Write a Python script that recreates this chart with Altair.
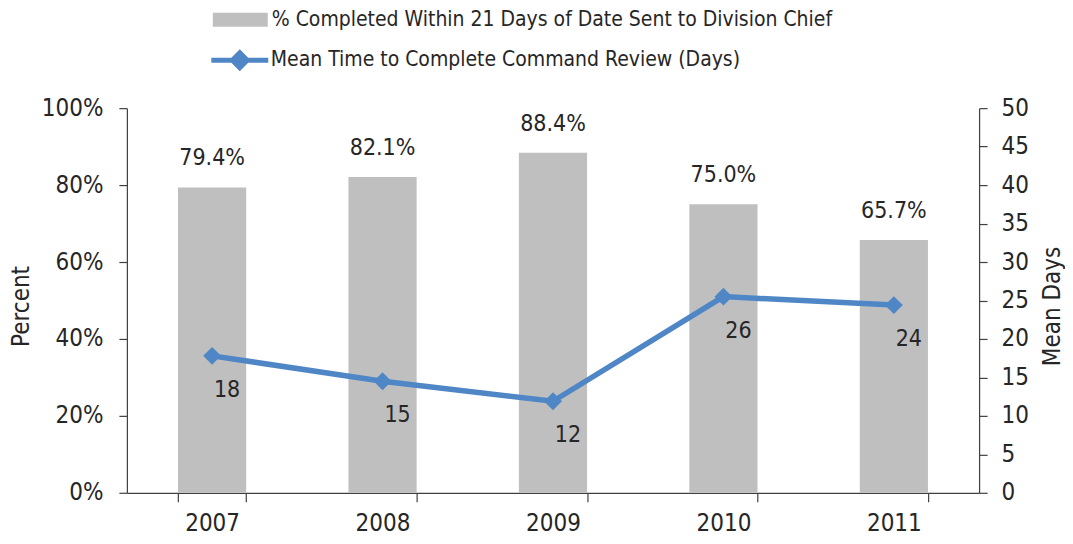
import altair as alt
import pandas as pd

years = ["2007", "2008", "2009", "2010", "2011"]
pct_completed = [79.4, 82.1, 88.4, 75.0, 65.7]
pct_labels = ["79.4%", "82.1%", "88.4%", "75.0%", "65.7%"]
mean_days = [17.8, 14.5, 11.9, 25.5, 24.4]
day_labels = ["18", "15", "12", "26", "24"]
BAR_NAME = "% Completed Within 21 Days of Date Sent to Division Chief"
LINE_NAME = "Mean Time to Complete Command Review (Days)"

GRAY = "#BFBFBF"
BLUE = "#4F86C6"
TXT = "#262626"
FONT = "DejaVu Sans Condensed, Liberation Sans Narrow, sans-serif"
FS = 24

df = pd.DataFrame({
    "year": years,
    "pct": pct_completed,
    "pct_label": pct_labels,
    "days": mean_days,
    "day_label": day_labels,
    "s1": BAR_NAME,
    "s2": LINE_NAME,
})

base = alt.Chart(df)

x = alt.X("year:N", title=None,
          scale=alt.Scale(paddingInner=0.6, paddingOuter=0.3),
          axis=alt.Axis(labelAngle=0, tickBand="extent", tickSize=9, labelPadding=10,
                        domainColor="#404040", tickColor="#404040", grid=False))

y_pct = alt.Y("pct:Q", title="Percent",
              scale=alt.Scale(domain=[0, 100]),
              axis=alt.Axis(values=[0, 20, 40, 60, 80, 100], labelExpr="datum.value + '%'",
                            grid=False, tickSize=8, labelPadding=16,
                            titleAngle=270, titleX=-105, titleY=198, titleAlign="center",
                            titleBaseline="middle",
                            domainColor="#404040", tickColor="#404040"))

y_days = alt.Y("days:Q", title="Mean Days",
               scale=alt.Scale(domain=[0, 50]),
               axis=alt.Axis(orient="right", values=list(range(0, 55, 5)), grid=False,
                             tickSize=8, labelPadding=14,
                             titleAngle=270, titleX=73, titleY=198, titleAlign="center",
                             titleBaseline="middle",
                             domainColor="#404040", tickColor="#404040"))

rect_path = "M-1,-0.2545H1V0.2545H-1Z"
line_path = "M-1,0H1M0,-0.26L0.26,0L0,0.26L-0.26,0Z"

bars = base.mark_bar(color=GRAY).encode(
    x=x, y=y_pct,
    fill=alt.Fill("s1:N", scale=alt.Scale(range=[GRAY]),
                  legend=alt.Legend(orient="none", legendX=86, legendY=-116, title=None,
                                    symbolType=rect_path, symbolSize=3025, symbolStrokeWidth=0,
                                    labelFont=FONT, labelFontSize=21, labelColor=TXT,
                                    labelOffset=4, padding=0, labelLimit=800)),
)
bar_text = base.mark_text(baseline="middle", dy=-29, font=FONT, fontSize=23, color=TXT).encode(
    x=x, y=y_pct, text="pct_label:N")

line = base.mark_line(strokeWidth=5.5).encode(
    x=x, y=y_days,
    stroke=alt.Stroke("s2:N", scale=alt.Scale(range=[BLUE]),
                      legend=alt.Legend(orient="none", legendX=82, legendY=-79, title=None,
                                        symbolType=line_path, symbolSize=3249,
                                        symbolStrokeWidth=5, symbolFillColor=BLUE,
                                        labelFont=FONT, labelFontSize=21, labelColor=TXT,
                                        labelOffset=0, padding=0, labelLimit=800)),
)
points = base.mark_point(shape="diamond", filled=True, size=320, color=BLUE, opacity=1).encode(
    x=x, y=y_days)
line_text = base.mark_text(baseline="middle", dx=15, dy=34, font=FONT, fontSize=23, color=TXT).encode(
    x=x, y=y_days, text="day_label:N")

left = alt.layer(bars, bar_text)
right = alt.layer(line, points, line_text)

chart = alt.layer(left, right).resolve_scale(
    y="independent", fill="independent", stroke="independent"
).properties(
    width=853, height=385,
    autosize=alt.AutoSizeParams(type="none"),
    padding={"left": 119, "top": 100, "right": 86, "bottom": 43},
).configure_view(stroke=None).configure_axis(
    labelFont=FONT, labelFontSize=FS, labelColor=TXT,
    titleFont=FONT, titleFontSize=FS, titleColor=TXT, titleFontWeight="normal",
    domainWidth=1.2, tickWidth=1.2,
)

chart.save("out.html", embed_options={"renderer": "svg", "actions": False})
